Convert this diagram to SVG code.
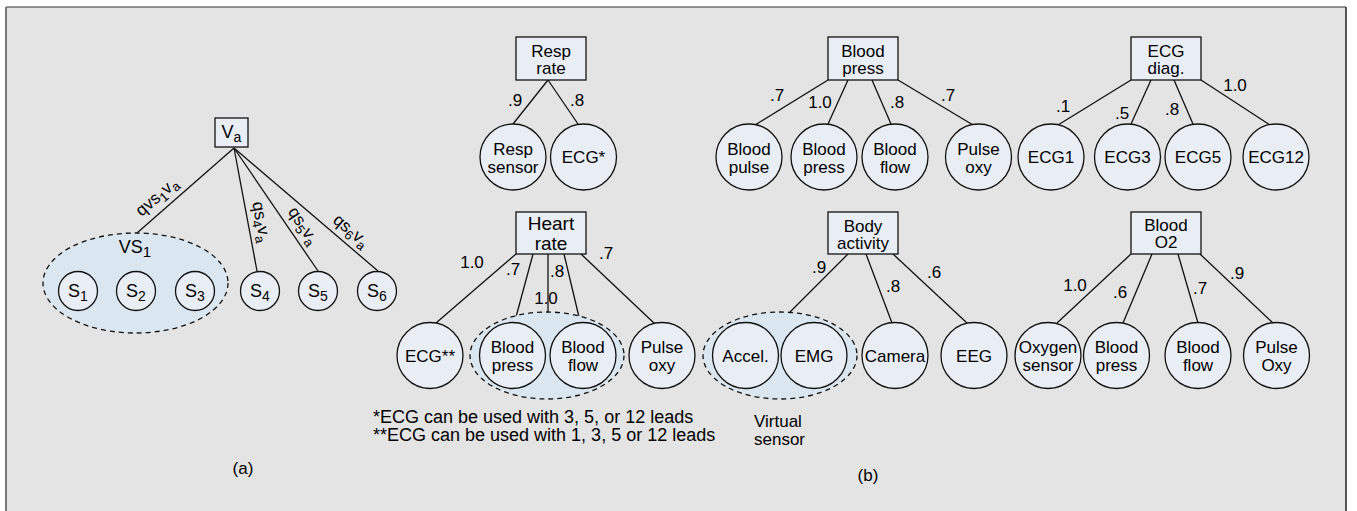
<svg xmlns="http://www.w3.org/2000/svg" width="1357" height="511" viewBox="0 0 1357 511">
<style>
text{font-family:"Liberation Sans",Arial,sans-serif;fill:#000;font-size:17px}
.n{fill:#e9eef5;stroke:#111;stroke-width:1.3}
.g{fill:#dbe7f0;stroke:#111;stroke-width:1.3;stroke-dasharray:5 4}
.c line{stroke:#111;stroke-width:1.3}
.m{text-anchor:middle}
.s{font-size:13px}
.h{font-size:19px}
.q{font-size:17px}
</style>
<rect x="0" y="0" width="1357" height="511" fill="#fff"/>
<rect x="6" y="7" width="1340" height="510" fill="#e4e4e4"/>
<line x1="6" y1="7" x2="1346" y2="7" stroke="#333" stroke-width="1.2"/>
<line x1="6" y1="7" x2="6" y2="511" stroke="#777" stroke-width="2"/>
<line x1="1346" y1="7" x2="1346" y2="511" stroke="#222" stroke-width="1.5"/>

<g id="connectors" class="c">
<line x1="234" y1="148" x2="137" y2="233"/>
<line x1="234" y1="148" x2="257" y2="271"/>
<line x1="234" y1="148" x2="318" y2="271"/>
<line x1="234" y1="148" x2="378" y2="271"/>
<line x1="548" y1="80" x2="513" y2="124"/>
<line x1="548" y1="80" x2="578" y2="124"/>
<line x1="828" y1="80" x2="755" y2="125"/>
<line x1="848" y1="80" x2="828" y2="124"/>
<line x1="872" y1="80" x2="891" y2="124"/>
<line x1="898" y1="80" x2="973" y2="125"/>
<line x1="1131" y1="80" x2="1058" y2="125"/>
<line x1="1151" y1="80" x2="1131" y2="124"/>
<line x1="1174" y1="80" x2="1193" y2="124"/>
<line x1="1201" y1="80" x2="1270" y2="125"/>
<line x1="516" y1="254" x2="436" y2="323"/>
<line x1="533" y1="254" x2="516" y2="317"/>
<line x1="548" y1="254" x2="548" y2="312"/>
<line x1="564" y1="254" x2="579" y2="317"/>
<line x1="581" y1="254" x2="655" y2="324"/>
<line x1="848" y1="254" x2="790" y2="312"/>
<line x1="866" y1="254" x2="892" y2="323"/>
<line x1="893" y1="254" x2="967" y2="323"/>
<line x1="1131" y1="254" x2="1057" y2="323"/>
<line x1="1152" y1="254" x2="1123" y2="323"/>
<line x1="1178" y1="254" x2="1198" y2="323"/>
<line x1="1200" y1="254" x2="1273" y2="323"/>
</g>

<g id="edge-labels">
<text class="m q" transform="translate(157,197) rotate(-41)" y="5">qvs<tspan class="s" dy="4">1</tspan><tspan dy="-4">v</tspan><tspan class="s" dy="4">a</tspan></text>
<text class="m q" transform="translate(261,222) rotate(79)" y="5">qs<tspan class="s" dy="4">4</tspan><tspan dy="-4">v</tspan><tspan class="s" dy="4">a</tspan></text>
<text class="m q" transform="translate(303,226) rotate(56)" y="5">qs<tspan class="s" dy="4">5</tspan><tspan dy="-4">v</tspan><tspan class="s" dy="4">a</tspan></text>
<text class="m q" transform="translate(351,231) rotate(40)" y="5">qs<tspan class="s" dy="4">6</tspan><tspan dy="-4">v</tspan><tspan class="s" dy="4">a</tspan></text>
<text class="m" x="515" y="106">.9</text>
<text class="m" x="577" y="106">.8</text>
<text class="m" x="777" y="101">.7</text>
<text class="m" x="820" y="108">1.0</text>
<text class="m" x="897" y="108">.8</text>
<text class="m" x="948" y="101">.7</text>
<text class="m" x="1063" y="112">.1</text>
<text class="m" x="1122" y="119">.5</text>
<text class="m" x="1172" y="115">.8</text>
<text class="m" x="1235" y="91">1.0</text>
<text class="m" x="472" y="268">1.0</text>
<text class="m" x="513" y="275">.7</text>
<text class="m" x="557" y="277">.8</text>
<text class="m" x="546" y="304">1.0</text>
<text class="m" x="606" y="259">.7</text>
<text class="m" x="819" y="273">.9</text>
<text class="m" x="893" y="292">.8</text>
<text class="m" x="934" y="278">.6</text>
<text class="m" x="1075" y="291">1.0</text>
<text class="m" x="1120" y="298">.6</text>
<text class="m" x="1200" y="294">.7</text>
<text class="m" x="1237" y="279">.9</text>
</g>

<g id="va">
<rect class="n" x="215" y="118" width="33" height="29"/>
<text class="m" x="231.5" y="138" style="font-size:18px">V<tspan class="s" dy="4" style="font-size:14px">a</tspan></text>
</g>
<g id="vs1">
<ellipse class="g" cx="135.5" cy="283" rx="92.5" ry="50"/>
<text class="m" x="135" y="253" style="font-size:18px">VS<tspan dy="4" style="font-size:15px">1</tspan></text>
</g>
<g id="s1"><circle class="n" cx="78" cy="291" r="19.5"/><text class="m" x="78" y="297" style="font-size:18px">S<tspan dy="4" style="font-size:14px">1</tspan></text></g>
<g id="s2"><circle class="n" cx="136" cy="291" r="19.5"/><text class="m" x="136" y="297" style="font-size:18px">S<tspan dy="4" style="font-size:14px">2</tspan></text></g>
<g id="s3"><circle class="n" cx="195" cy="291" r="19.5"/><text class="m" x="195" y="297" style="font-size:18px">S<tspan dy="4" style="font-size:14px">3</tspan></text></g>
<g id="s4"><circle class="n" cx="260" cy="291" r="19.5"/><text class="m" x="260" y="297" style="font-size:18px">S<tspan dy="4" style="font-size:14px">4</tspan></text></g>
<g id="s5"><circle class="n" cx="318" cy="291" r="19.5"/><text class="m" x="318" y="297" style="font-size:18px">S<tspan dy="4" style="font-size:14px">5</tspan></text></g>
<g id="s6"><circle class="n" cx="377" cy="291" r="19.5"/><text class="m" x="377" y="297" style="font-size:18px">S<tspan dy="4" style="font-size:14px">6</tspan></text></g>
<text class="m" x="243" y="474">(a)</text>

<g id="resp-rate">
<rect class="n" x="516" y="37" width="70" height="43"/>
<text class="m" x="551" y="56.5">Resp</text><text class="m" x="551" y="73.5">rate</text>
</g>
<g id="resp-sensor"><circle class="n" cx="513" cy="157" r="33"/><text class="m" x="513" y="155">Resp</text><text class="m" x="513" y="173">sensor</text></g>
<g id="ecg-star"><circle class="n" cx="583.5" cy="157" r="33"/><text class="m" x="583.5" y="163">ECG*</text></g>

<g id="blood-press-box">
<rect class="n" x="828" y="37" width="70" height="43"/>
<text class="m" x="863" y="56.5">Blood</text><text class="m" x="863" y="73.5">press</text>
</g>
<g id="bp-blood-pulse"><circle class="n" cx="749" cy="157" r="33"/><text class="m" x="749" y="155">Blood</text><text class="m" x="749" y="173">pulse</text></g>
<g id="bp-blood-press"><circle class="n" cx="824" cy="157" r="33"/><text class="m" x="824" y="155">Blood</text><text class="m" x="824" y="173">press</text></g>
<g id="bp-blood-flow"><circle class="n" cx="895" cy="157" r="33"/><text class="m" x="895" y="155">Blood</text><text class="m" x="895" y="173">flow</text></g>
<g id="bp-pulse-oxy"><circle class="n" cx="978.5" cy="157" r="33"/><text class="m" x="978.5" y="155">Pulse</text><text class="m" x="978.5" y="173">oxy</text></g>

<g id="ecg-diag">
<rect class="n" x="1131" y="37" width="70" height="43"/>
<text class="m" x="1166" y="56.5">ECG</text><text class="m" x="1166" y="73.5">diag.</text>
</g>
<g id="ecg1"><circle class="n" cx="1051" cy="157" r="33"/><text class="m" x="1051" y="163">ECG1</text></g>
<g id="ecg3"><circle class="n" cx="1127.5" cy="157" r="33"/><text class="m" x="1127.5" y="163">ECG3</text></g>
<g id="ecg5"><circle class="n" cx="1198" cy="157" r="33"/><text class="m" x="1198" y="163">ECG5</text></g>
<g id="ecg12"><circle class="n" cx="1276" cy="157" r="33"/><text class="m" x="1276" y="163">ECG12</text></g>

<g id="heart-rate">
<rect class="n" x="516" y="212" width="70" height="42"/>
<text class="m h" x="551" y="230">Heart</text><text class="m h" x="551" y="250">rate</text>
</g>
<g id="hr-ecg"><circle class="n" cx="430" cy="355.5" r="33"/><text class="m" x="430" y="362">ECG**</text></g>
<g id="hr-virtual">
<ellipse class="g" cx="547" cy="355.5" rx="77" ry="43.5"/>
</g>
<g id="hr-blood-press"><circle class="n" cx="512.5" cy="355.5" r="33"/><text class="m" x="512.5" y="353">Blood</text><text class="m" x="512.5" y="371">press</text></g>
<g id="hr-blood-flow"><circle class="n" cx="583" cy="355.5" r="33"/><text class="m" x="583" y="353">Blood</text><text class="m" x="583" y="371">flow</text></g>
<g id="hr-pulse-oxy"><circle class="n" cx="662" cy="355.5" r="33"/><text class="m" x="662" y="353">Pulse</text><text class="m" x="662" y="371">oxy</text></g>

<g id="body-activity">
<rect class="n" x="828" y="212" width="70" height="42"/>
<text class="m" x="863" y="231.5">Body</text><text class="m" x="863" y="248.5">activity</text>
</g>
<g id="ba-virtual"><ellipse class="g" cx="780" cy="355.5" rx="77" ry="43.5"/></g>
<g id="ba-accel"><circle class="n" cx="745.5" cy="355.5" r="33"/><text class="m" x="745.5" y="362">Accel.</text></g>
<g id="ba-emg"><circle class="n" cx="814" cy="355.5" r="33"/><text class="m" x="814" y="362">EMG</text></g>
<g id="ba-camera"><circle class="n" cx="895" cy="355.5" r="33"/><text class="m" x="895" y="362">Camera</text></g>
<g id="ba-eeg"><circle class="n" cx="974" cy="355.5" r="33"/><text class="m" x="974" y="362">EEG</text></g>

<g id="blood-o2">
<rect class="n" x="1131" y="212" width="70" height="42"/>
<text class="m" x="1166" y="231">Blood</text><text class="m" x="1166" y="248">O2</text>
</g>
<g id="o2-oxygen"><circle class="n" cx="1048" cy="355.5" r="33"/><text class="m" x="1048" y="353">Oxygen</text><text class="m" x="1048" y="371">sensor</text></g>
<g id="o2-blood-press"><circle class="n" cx="1116.5" cy="355.5" r="33"/><text class="m" x="1116.5" y="353">Blood</text><text class="m" x="1116.5" y="371">press</text></g>
<g id="o2-blood-flow"><circle class="n" cx="1198" cy="355.5" r="33"/><text class="m" x="1198" y="353">Blood</text><text class="m" x="1198" y="371">flow</text></g>
<g id="o2-pulse-oxy"><circle class="n" cx="1276.5" cy="355.5" r="33"/><text class="m" x="1276.5" y="353">Pulse</text><text class="m" x="1276.5" y="371">Oxy</text></g>

<g id="notes">
<text x="373" y="423" style="font-size:18px">*ECG can be used with 3, 5, or 12 leads</text>
<text x="373" y="441" style="font-size:18px">**ECG can be used with 1, 3, 5 or 12 leads</text>
<text x="754" y="427">Virtual</text>
<text x="754" y="445">sensor</text>
<text class="m" x="868" y="481">(b)</text>
</g>
</svg>
